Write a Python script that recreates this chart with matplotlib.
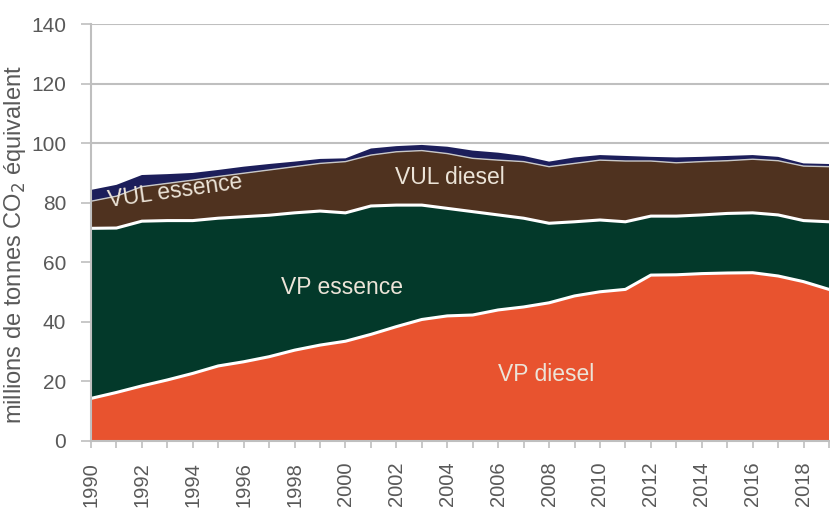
import matplotlib
matplotlib.use("Agg")
import matplotlib.pyplot as plt
import numpy as np

plt.rcParams['font.family'] = ['Liberation Sans', 'DejaVu Sans']

years = list(range(1990, 2020))
vp_diesel = [14.3, 16.3, 18.5, 20.5, 22.7, 25.2, 26.6, 28.3, 30.5, 32.2,
             33.5, 35.8, 38.4, 40.8, 42.0, 42.3, 44.0, 45.0, 46.4, 48.7,
             50.1, 50.9, 55.7, 55.8, 56.2, 56.4, 56.5, 55.4, 53.5, 50.9]
vp_essence = [57.1, 55.2, 55.3, 53.5, 51.3, 49.6, 48.7, 47.5, 46.1, 45.0,
              43.1, 43.1, 40.8, 38.4, 36.1, 34.7, 31.9, 29.8, 26.7, 24.9,
              24.1, 22.7, 19.8, 19.7, 19.7, 20.0, 20.1, 20.5, 20.5, 22.7]
vul_diesel = [9.1, 10.7, 11.6, 12.5, 13.6, 14.0, 14.6, 15.2, 15.5, 16.0,
              17.2, 17.1, 17.9, 18.3, 18.4, 17.9, 18.4, 19.0, 19.0, 19.6,
              20.1, 20.4, 18.5, 17.9, 17.9, 17.7, 18.0, 18.2, 18.3, 18.5]
vul_essence = [3.8, 3.8, 3.9, 3.1, 2.4, 2.2, 2.2, 2.0, 1.7, 1.5,
               1.1, 2.2, 1.9, 1.9, 2.3, 2.6, 2.5, 1.9, 1.7, 2.0,
               1.7, 1.7, 1.4, 1.8, 1.6, 1.6, 1.4, 1.3, 0.9, 0.9]

series_labels = ["VP diesel", "VP essence", "VUL diesel", "VUL essence"]
colors = ["#E8532F", "#03392A", "#4F321F", "#1C1E5A"]
yticks = [0, 20, 40, 60, 80, 100, 120, 140]
xticks_major = list(range(1990, 2019, 2))

fig = plt.figure(figsize=(8.30, 5.09), dpi=100)
ax = fig.add_axes([91/830, 1 - 441/509, 738/830, (441 - 24)/509])

layers = [vp_diesel, vp_essence, vul_diesel, vul_essence]
ax.stackplot(years, *layers, colors=colors, linewidth=0, zorder=2)

# boundaries between layers
cum = np.cumsum(np.array(layers), axis=0)
ax.plot(years, cum[0], color="white", linewidth=2.2, zorder=2.5)
ax.plot(years, cum[1], color="white", linewidth=2.2, zorder=2.5)
ax.plot(years, cum[2], color="#C8C8C8", linewidth=1.0, zorder=2.5)

ax.set_xlim(1990, 2019)
ax.set_ylim(0, 140)
ax.set_yticks(yticks)
ax.set_xticks(xticks_major)
ax.set_xticks(years, minor=True)
ax.set_xticklabels([str(y) for y in xticks_major], rotation=90)

grey = "#BFBFBF"
ax.grid(axis="y", color=grey, linewidth=1.5, zorder=0)
ax.set_axisbelow(True)
for s in ["top", "right"]:
    ax.spines[s].set_visible(False)
for s in ["left", "bottom"]:
    ax.spines[s].set_color(grey)
    ax.spines[s].set_linewidth(1.5)
    ax.spines[s].set_zorder(3)

ax.tick_params(axis="y", length=7, width=1.2, color=grey, labelsize=15,
               labelcolor="#595959", pad=11)
ax.tick_params(axis="x", which="both", length=5, width=1.2, color=grey,
               labelsize=14.5, labelcolor="#595959", pad=10)

ax.set_ylabel("millions de tonnes CO$_2$ équivalent", fontsize=17,
              color="#595959")
ax.yaxis.set_label_coords(-0.085, 0.47)

txt = "#ECE4D8"
ax.text(1993.3, 83.8, "VUL essence", color=txt, fontsize=16.5,
        ha="center", va="center", rotation=8, zorder=4)
ax.text(2004.1, 88.6, "VUL diesel", color=txt, fontsize=16.5,
        ha="center", va="center", zorder=4)
ax.text(1999.85, 51.4, "VP essence", color=txt, fontsize=16.5,
        ha="center", va="center", zorder=4)
ax.text(2007.9, 22.2, "VP diesel", color=txt, fontsize=16.5,
        ha="center", va="center", zorder=4)

fig.savefig("out.png", dpi=100)
